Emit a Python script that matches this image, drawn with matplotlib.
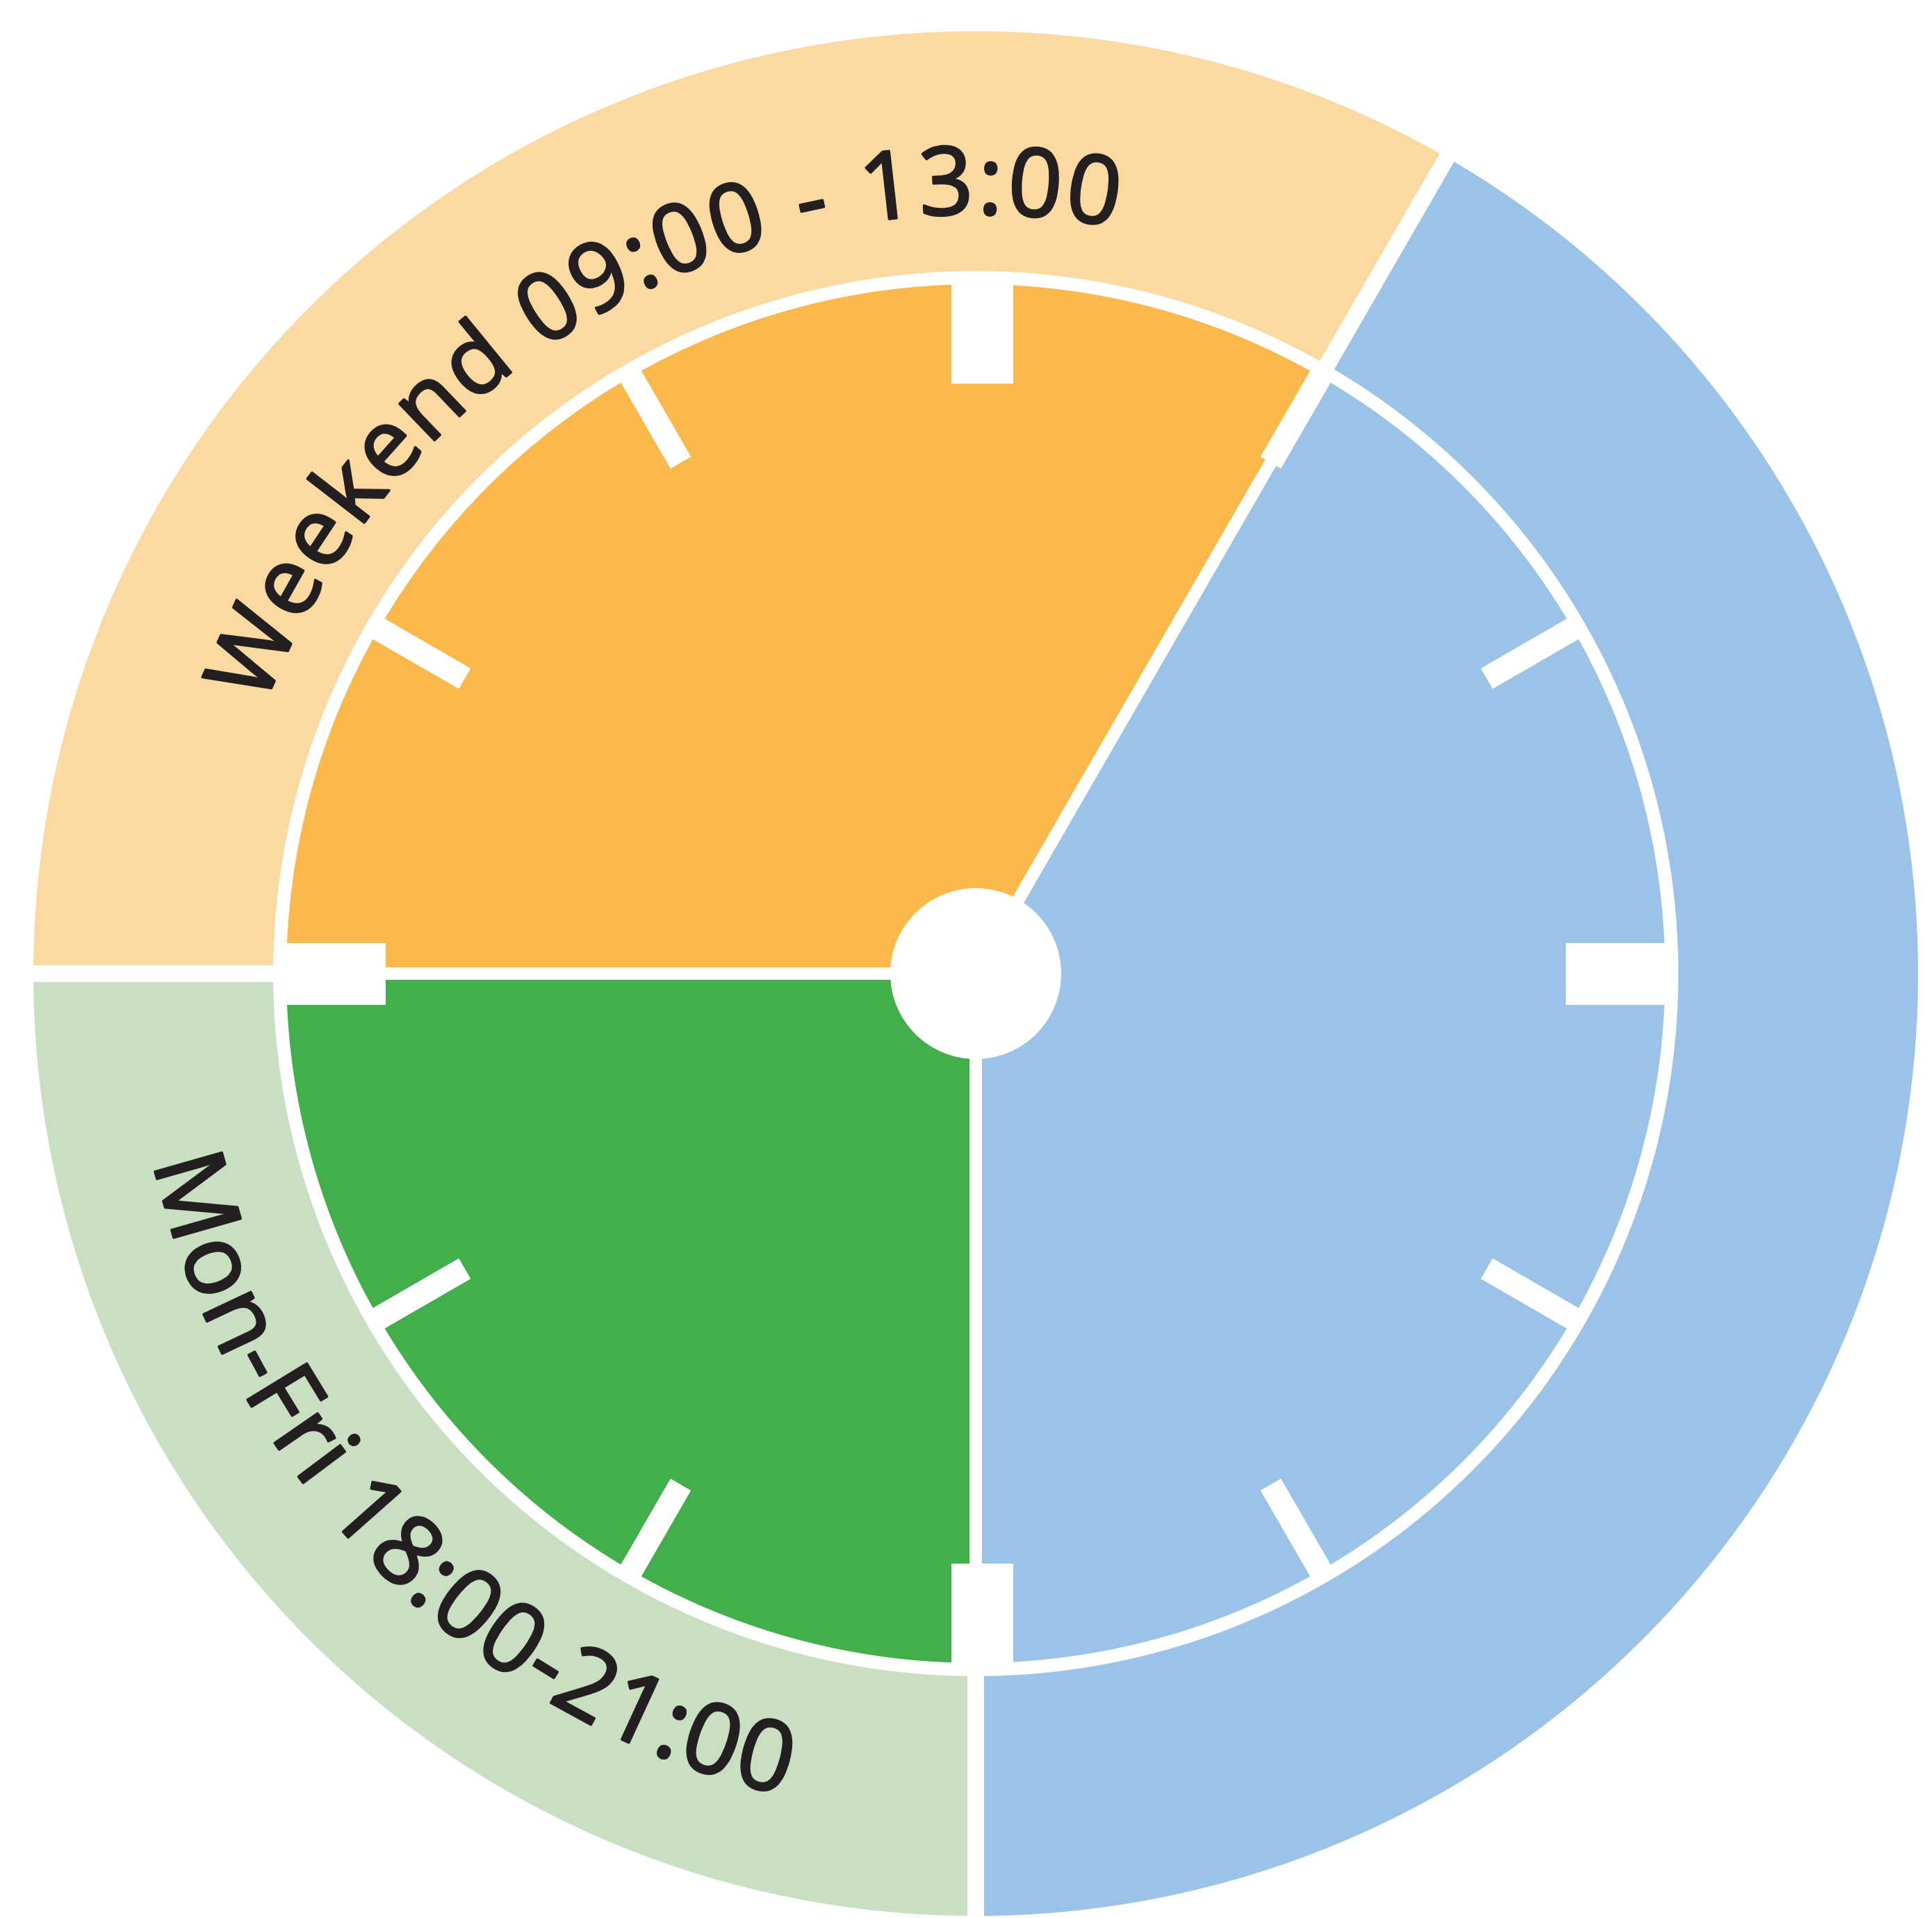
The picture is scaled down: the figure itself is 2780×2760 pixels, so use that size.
import numpy as np
import matplotlib
matplotlib.use("Agg")
import matplotlib.pyplot as plt
import matplotlib.patheffects as pe
from matplotlib.patches import Wedge, Polygon, Circle
from matplotlib.font_manager import FontProperties, findfont
from matplotlib.ft2font import FT2Font

# ---------------- data ----------------
slot_start_hours = [9, 13, 18]
slot_end_hours = [13, 18, 21]
slot_labels = ["Weekend 09:00 - 13:00", "", "Mon-Fri 18:00-21:00"]
inner_colors = ["#FBB94B", "#9BC3E8", "#42AE4C"]
outer_colors = ["#FDD9A2", "#9BC3E8", "#C8E0C1"]
tick_hours = list(range(12))
major_tick_hours = [0, 3, 6, 9]

# label placement on the outer ring (mid angle, angular span, reading direction)
label_mid_deg = [118.75, None, 225.45]
label_span_deg = [74.7, None, 59.1]
label_clockwise = [True, None, False]

TEXT_COLOR = "#231F20"

# ---------------- figure ----------------
W, H = 2780, 2760
fig = plt.figure(figsize=(W / 100, H / 100), dpi=100)
ax = fig.add_axes([0, 0, 1, 1])
ax.set_xlim(0, W)
ax.set_ylim(0, H)
ax.set_aspect("equal")
ax.axis("off")

cx, cy = 1404.0, H - 1401.0
R_in = 992.0
ring_w = 19.0
R_out = 1356.0
hub_r = 123.0


def hour_angle(h):
    return 90.0 - (h % 12) * 30.0


def radial_rect(theta_deg, r0, r1, w, color="white", z=5, dx=0.0):
    th = np.radians(theta_deg)
    u = np.array([np.cos(th), np.sin(th)])
    n = np.array([-np.sin(th), np.cos(th)])
    c = np.array([cx + dx, cy])
    pts = [c + r0 * u + w / 2 * n, c + r1 * u + w / 2 * n,
           c + r1 * u - w / 2 * n, c + r0 * u - w / 2 * n]
    ax.add_patch(Polygon(pts, closed=True, fc=color, ec="none", zorder=z))


# wedges
for s, e, ci, co in zip(slot_start_hours, slot_end_hours, inner_colors, outer_colors):
    t1 = hour_angle(e)
    t2 = hour_angle(s)
    while t2 <= t1:
        t2 += 360
    ax.add_patch(Wedge((cx, cy), R_out, t1, t2, width=R_out - R_in - ring_w,
                       fc=co, ec="none", zorder=1))
    ax.add_patch(Wedge((cx, cy), R_in, t1, t2, fc=ci, ec="none", zorder=1))

# separators between slots
boundary_hours = sorted(set([h % 12 for h in slot_start_hours + slot_end_hours]))
for h in boundary_hours:
    th = hour_angle(h)
    radial_rect(th, 0, R_in + ring_w / 2, 18)
    radial_rect(th, R_in, R_out + 30, 24)

# clock ticks
for h in tick_hours:
    w = 89 if h in major_tick_hours else 34
    shift = 9.0 if h in (0, 6) else 0.0
    radial_rect(hour_angle(h), 849, R_in + 6, w, z=6, dx=shift)

# hub
ax.add_patch(Circle((cx, cy), hub_r, fc="white", ec="none", zorder=7))


# curved labels
def curved_text(text, mid_deg, span_deg, r_center, r_base, clockwise, size_pt):
    fp = FontProperties(family="Open Sans", size=size_pt)
    font = FT2Font(findfont(fp))
    px = size_pt * 100 / 72
    font.set_size(px, 72)
    adv = np.array([font.load_char(ord(ch)).linearHoriAdvance / 65536.0 for ch in text])
    centers = np.cumsum(adv) - adv / 2
    n = len(text)
    L = np.radians(span_deg) * r_center
    t = (L - (centers[-1] - centers[0])) / (n - 1)
    pos = centers - centers[0] + np.arange(n) * t
    start = mid_deg + span_deg / 2 if clockwise else mid_deg - span_deg / 2
    for ch, p in zip(text, pos):
        if ch == " ":
            continue
        dphi = np.degrees(p / r_center)
        phi = start - dphi if clockwise else start + dphi
        rot = phi - 90 if clockwise else phi + 90
        x = cx + r_base * np.cos(np.radians(phi))
        y = cy + r_base * np.sin(np.radians(phi))
        ax.text(x, y, ch, fontproperties=fp, color=TEXT_COLOR, rotation=rot,
                rotation_mode="anchor", ha="center", va="baseline", zorder=10,
                path_effects=[pe.withStroke(linewidth=2.5, foreground=TEXT_COLOR)])


for lab, mid, span, cw in zip(slot_labels, label_mid_deg, label_span_deg, label_clockwise):
    if not lab:
        continue
    if cw:
        curved_text(lab, mid, span, 1142, 1093, True, 98)
    else:
        curved_text(lab, mid, span, 1163, 1214, False, 101)

fig.savefig("out.png", dpi=100, facecolor="white")
